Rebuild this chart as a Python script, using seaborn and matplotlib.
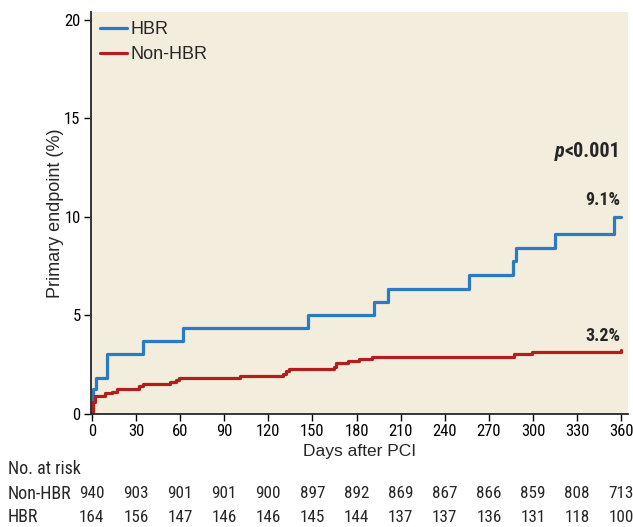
import matplotlib
matplotlib.use("Agg")
import matplotlib.pyplot as plt
import matplotlib.font_manager as fm
import seaborn as sns
import pandas as pd
import numpy as np

# ---- data ----
hbr_days = [0, 0.5, 1.1, 2.7, 10.2, 35, 61.7, 147.3, 191.6, 201.6, 256.5, 286.3, 288.1, 315.2, 355.2, 360]
hbr_vals = [0.0, 0.6, 1.26, 1.85, 3.07, 3.69, 4.36, 5.02, 5.69, 6.36, 7.04, 7.74, 8.42, 9.11, 9.98, 9.98]

non_days = [0, 0.6, 2.2, 9, 14, 17, 32.3, 35, 53.5, 57.6, 59, 101, 130, 132, 134.4, 165, 166, 174, 181.4, 190.3, 287, 299, 360]
non_vals = [0.0, 0.6, 0.93, 1.06, 1.14, 1.28, 1.4, 1.5, 1.6, 1.72, 1.83, 1.92, 2.05, 2.17, 2.26, 2.41, 2.59, 2.69, 2.81, 2.91, 3.03, 3.15, 3.25]

x_ticks = [0, 30, 60, 90, 120, 150, 180, 210, 240, 270, 300, 330, 360]
y_ticks = [0, 5, 10, 15, 20]
risk_non = [940, 903, 901, 901, 900, 897, 892, 869, 867, 866, 859, 808, 713]
risk_hbr = [164, 156, 147, 146, 146, 145, 144, 137, 137, 136, 131, 118, 100]

df = pd.concat([
    pd.DataFrame({"day": hbr_days, "val": hbr_vals, "group": "HBR"}),
    pd.DataFrame({"day": non_days, "val": non_vals, "group": "Non-HBR"}),
])

sns.set_style("ticks")

# pick a condensed font if one is installed
installed = {f.name for f in fm.fontManager.ttflist}
narrow_family = None
for cand in ['Liberation Sans Narrow', 'Roboto Condensed', 'Open Sans Condensed', 'Noto Sans Condensed']:
    if cand in installed:
        narrow_family = cand
        break
narrow_stretch = 'normal'
if narrow_family is None:
    narrow_family = 'DejaVu Sans'
    narrow_stretch = 'condensed'

plt.rcParams['font.family'] = [narrow_family, 'DejaVu Sans']
plt.rcParams['font.stretch'] = narrow_stretch
regular = ['Liberation Sans', 'DejaVu Sans']

fig = plt.figure(figsize=(6.33, 5.27), dpi=100)
ax = fig.add_axes([0.1438, 0.2144, 0.8482, 0.7628])
ax.set_facecolor('#F2EDDC')

blue = '#2A7BC4'
red = '#B01E1E'
sns.lineplot(data=df, x="day", y="val", hue="group", palette={"HBR": blue, "Non-HBR": red},
             drawstyle='steps-post', linewidth=2.3, ax=ax, estimator=None, sort=False)

ax.set_xlim(-0.5, 364.5)
ax.set_ylim(0, 20.4)
ax.set_xticks(x_ticks)
ax.set_yticks(y_ticks)
ax.tick_params(axis='both', labelsize=12, length=5, width=1, colors='black', pad=2.5)
for s in ['top', 'right']:
    ax.spines[s].set_visible(False)
for s in ['left', 'bottom']:
    ax.spines[s].set_linewidth(1.3)
ax.set_xlabel("Days after PCI", fontsize=12.5, family=regular, stretch='normal', labelpad=3)
ax.set_ylabel("Primary endpoint (%)", fontsize=13, family=regular, stretch='normal')
ax.yaxis.set_label_coords(-0.05, 0.5)

leg = ax.legend(loc='upper left', frameon=False, handlelength=1.5,
                handletextpad=0.2, borderaxespad=0.2, labelspacing=0.45, borderpad=0.3,
                prop={'family': regular, 'size': 13, 'stretch': 'normal'})

t1 = ax.text(0.985, 0.652, "<0.001", transform=ax.transAxes, ha='right', va='center',
             fontsize=14.5, fontweight='bold')
ax.annotate("p", xy=(0, 0.5), xycoords=t1, ha='right', va='center',
            fontsize=14.5, fontweight='bold', fontstyle='italic')
ax.text(0.985, 0.532, "9.1%", transform=ax.transAxes, ha='right', va='center',
        fontsize=13, fontweight='bold')
ax.text(0.985, 0.194, "3.2%", transform=ax.transAxes, ha='right', va='center',
        fontsize=13, fontweight='bold')

# number at risk table
trans = matplotlib.transforms.blended_transform_factory(ax.transData, fig.transFigure)
fig.text(8/633, 1 - 469/527, "No. at risk", ha='left', va='center', fontsize=13)
fig.text(8/633, 1 - 494/527, "Non-HBR", ha='left', va='center', fontsize=13)
fig.text(8/633, 1 - 517/527, "HBR", ha='left', va='center', fontsize=13)
for xt, a, b in zip(x_ticks, risk_non, risk_hbr):
    ax.text(xt, 1 - 494/527, str(a), transform=trans, ha='center', va='center', fontsize=12.3)
    ax.text(xt, 1 - 517/527, str(b), transform=trans, ha='center', va='center', fontsize=12.3)

fig.savefig("out.png", dpi=100)
